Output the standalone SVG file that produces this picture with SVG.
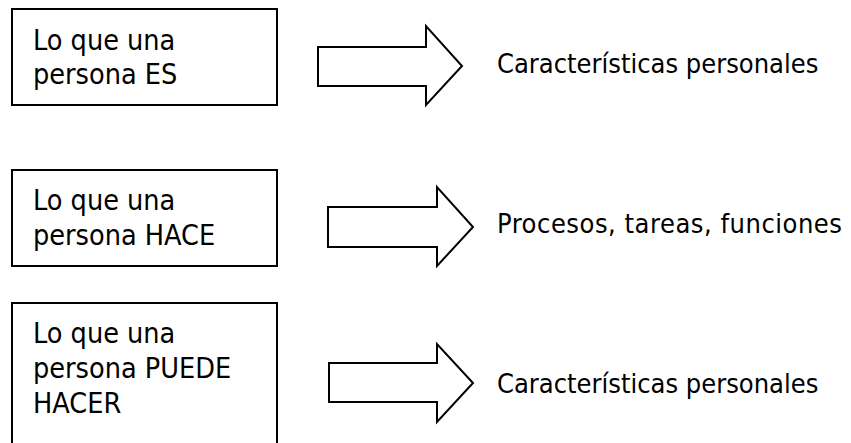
<svg xmlns="http://www.w3.org/2000/svg" width="851" height="443" viewBox="0 0 851 443">
<style>
.box{fill:#fff;stroke:#000;stroke-width:2}
.arr{fill:#fff;stroke:#000;stroke-width:2;stroke-linejoin:miter}
.t{font-family:"DejaVu Sans Condensed","DejaVu Sans","Liberation Sans",sans-serif;font-stretch:condensed;fill:#000}
.l{font-size:28.5px}
.r{font-size:27px}
</style>
<rect width="851" height="443" fill="#fff"/>
<g id="node-es">
<rect class="box" x="12" y="9" width="265" height="96"/>
<text class="t l" x="33" y="50">Lo que una</text>
<text class="t l" x="33" y="84">persona ES</text>
</g>
<g id="node-hace">
<rect class="box" x="12" y="170" width="265" height="96"/>
<text class="t l" x="33" y="210">Lo que una</text>
<text class="t l" x="33" y="245">persona HACE</text>
</g>
<g id="node-puede">
<rect class="box" x="12" y="303" width="265" height="150"/>
<text class="t l" x="33" y="343">Lo que una</text>
<text class="t l" x="33" y="378">persona PUEDE</text>
<text class="t l" x="33" y="413">HACER</text>
</g>
<g id="connectors">
<polygon class="arr" points="318,47 426,47 426,26 462,66 426,105 426,86 318,86"/>
<polygon class="arr" points="328,207 437,207 437,187 473,227 437,266 437,247 328,247"/>
<polygon class="arr" points="329,363 437,363 437,344 473,383 437,422 437,402 329,402"/>
</g>
<g id="label-1"><text class="t r" x="497" y="73">Características personales</text></g>
<g id="label-2"><text class="t r" x="497" y="233" textLength="345" lengthAdjust="spacing">Procesos, tareas, funciones</text></g>
<g id="label-3"><text class="t r" x="497" y="393">Características personales</text></g>
</svg>
